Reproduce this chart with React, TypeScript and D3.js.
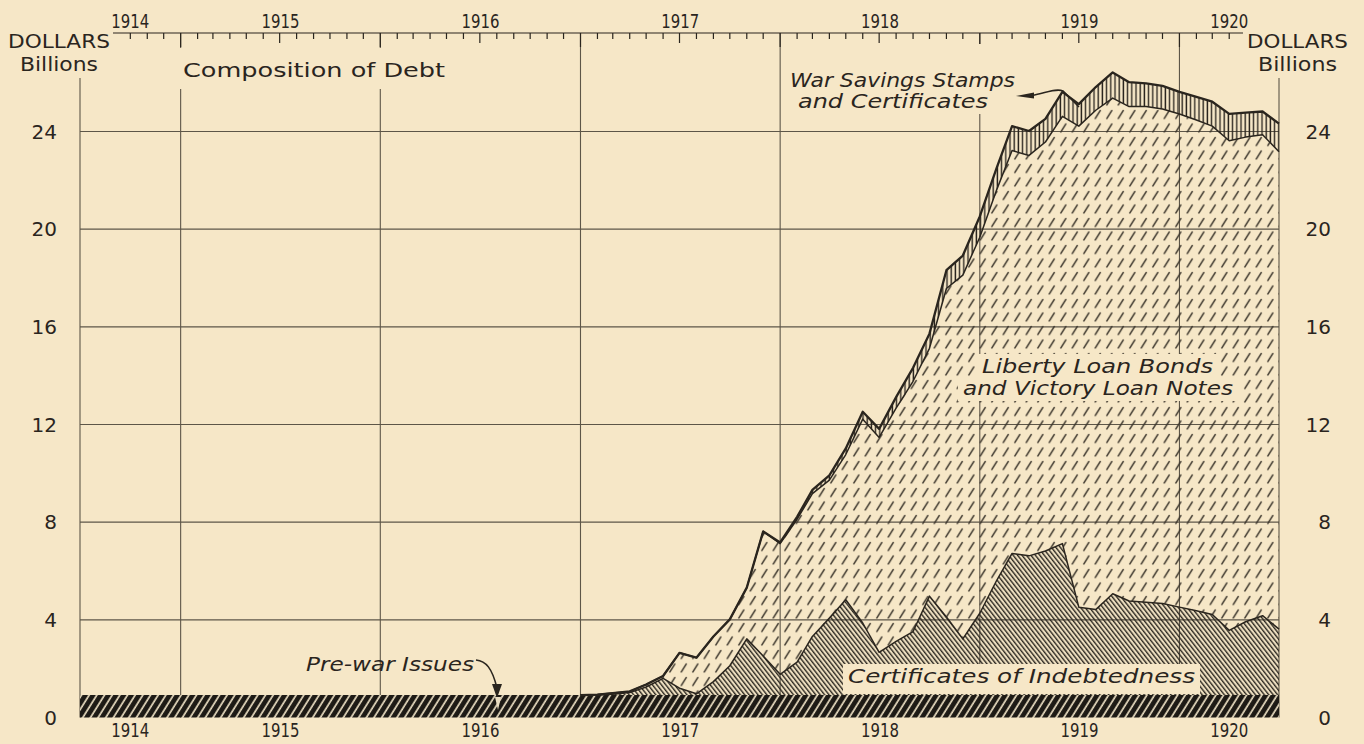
import React from "react";
import * as d3 from "d3";

// ---------- data (billions of dollars, monthly, Jan 1917 – Jul 1920) ----------
const chartStart = new Date(1914, 6, 1);
const chartEnd = new Date(1920, 6, 1);
const warStart = new Date(1917, 0, 1);

const yearLabels = ["1914", "1915", "1916", "1917", "1918", "1919", "1920"];
const yTicks = [0, 4, 8, 12, 16, 20, 24];

const preWarIssues = [
  0.92, 0.92, 0.92, 0.92, 0.92, 0.92, 0.92, 0.92, 0.92, 0.92, 0.92, 0.92,
  0.92, 0.92, 0.92, 0.92, 0.92, 0.92, 0.92, 0.92, 0.92, 0.92, 0.92, 0.92,
  0.92, 0.92, 0.92, 0.92, 0.92, 0.92, 0.92, 0.92, 0.92, 0.92, 0.92, 0.92,
  0.92, 0.92, 0.92, 0.92, 0.92, 0.92, 0.92,
];
const certificates = [
  0, 0, 0.03, 0.1, 0.33, 0.68, 0.28, 0.05, 0.55, 1.2, 2.3, 1.6,
  0.85, 1.35, 2.4, 3.15, 3.9, 2.95, 1.75, 2.2, 2.6, 4.05, 3.2, 2.3,
  3.35, 4.7, 5.8, 5.7, 5.9, 6.2, 3.6, 3.5, 4.15, 3.85, 3.8, 3.75,
  3.6, 3.45, 3.3, 2.65, 3.0, 3.25, 2.7,
];
const libertyLoans = [
  0, 0.02, 0.05, 0.05, 0.1, 0.1, 1.45, 1.48, 1.85, 1.9, 2.1, 5.1,
  5.35, 5.85, 5.85, 5.65, 5.95, 8.35, 8.8, 9.55, 10.25, 10.15, 13.45, 14.9,
  15.4, 16.0, 16.5, 16.4, 16.75, 17.5, 19.7, 20.45, 20.3, 20.25, 20.3, 20.25,
  20.2, 20.1, 20.0, 20.05, 19.85, 19.7, 19.55,
];
const warSavings = [
  0, 0, 0, 0, 0, 0, 0, 0, 0, 0, 0, 0,
  0.05, 0.1, 0.15, 0.2, 0.25, 0.3, 0.35, 0.45, 0.55, 0.6, 0.75, 0.8,
  0.85, 0.9, 1.0, 1.0, 0.95, 1.0, 0.9, 0.95, 1.05, 1.0, 0.95, 0.95,
  0.9, 0.95, 1.0, 1.1, 1.0, 0.95, 1.15,
];

// ---------- style ----------
const PAPER = "#f6e7c7";
const INK = "#2a251e";
const GRID = "#5d5648";
const FONT = "'DejaVu Sans', sans-serif";

export default function App() {
  const W = 1364;
  const H = 744;
  const left = 80;
  const right = 1279;

  const x = d3.scaleTime().domain([chartStart, chartEnd]).range([left, right]);
  const y = d3.scaleLinear().domain([0, 24]).range([717.5, 131.5]);

  const months = d3.timeMonth.range(warStart, d3.timeMonth.offset(chartEnd, 1));
  const rows = months.map((date, i) => ({
    date,
    prewar: preWarIssues[i],
    cert: certificates[i],
    liberty: libertyLoans[i],
    stamps: warSavings[i],
  }));
  const keys = ["prewar", "cert", "liberty", "stamps"];
  const series = d3.stack<any>().keys(keys)(rows);

  const pts = (s: any) => s.map((d: any) => ({ date: d.data.date, y0: d[0], y1: d[1] }));
  const prewarPts = [{ date: chartStart, y0: 0, y1: preWarIssues[0] }, ...pts(series[0])];

  const area = d3
    .area<any>()
    .x((d) => x(d.date))
    .y0((d) => y(d.y0))
    .y1((d) => y(d.y1));
  const line = d3
    .line<any>()
    .x((d) => x(d.date))
    .y((d) => y(d.y1));

  const years = d3.timeYear.range(new Date(1915, 0, 1), chartEnd);
  const allMonths = d3.timeMonth.range(chartStart, chartEnd);

  const yearMid = yearLabels.map((lab) => {
    const yr = +lab;
    const a = Math.max(+new Date(yr, 0, 1), +chartStart);
    const b = Math.min(+new Date(yr + 1, 0, 1), +chartEnd);
    return { lab, cx: (x(new Date(a)) + x(new Date(b))) / 2 };
  });

  return (
    <svg
      width={W}
      height={H}
      style={{ position: "absolute", left: 0, top: 0, background: PAPER }}
    >
      <defs>
        <pattern id="prewar" patternUnits="userSpaceOnUse" width="6.5" height="8" patternTransform="rotate(32)">
          <rect width="6.5" height="8" fill="#1d1a15" />
          <line x1="2" y1="0" x2="2" y2="8" stroke="#e8dcc0" strokeWidth="1.7" />
        </pattern>
        <pattern id="cert" patternUnits="userSpaceOnUse" width="3.5" height="8" patternTransform="rotate(-38)">
          <line x1="1.5" y1="0" x2="1.5" y2="8" stroke="#2a261f" strokeWidth="1.45" />
        </pattern>
        <pattern id="liberty" patternUnits="userSpaceOnUse" width="11.5" height="13.5">
          <line x1="2.8" y1="10.5" x2="7.8" y2="2.5" stroke="#3a342a" strokeWidth="1.5" strokeLinecap="round" />
        </pattern>
        <pattern id="stamps" patternUnits="userSpaceOnUse" width="4.2" height="10">
          <line x1="2" y1="0" x2="2" y2="10" stroke="#2a251e" strokeWidth="1.4" />
        </pattern>
      </defs>

      <rect x={0} y={0} width={W} height={H} fill={PAPER} />

      {/* grid */}
      <g stroke={GRID} strokeWidth={1.1}>
        {yTicks.filter((t) => t > 0).map((t) => (
          <line key={"h" + t} x1={left} x2={right} y1={y(t)} y2={y(t)} />
        ))}
        {years.map((d) => (
          <line key={"v" + +d} x1={x(d)} x2={x(d)} y1={33} y2={y(0)} />
        ))}
        <line x1={left} x2={left} y1={78} y2={y(0)} />
        <line x1={right} x2={right} y1={78} y2={y(0)} />
      </g>

      {/* top month axis */}
      <g stroke={INK} strokeWidth={1.2}>
        <line x1={113} x2={1243} y1={33} y2={33} />
        {allMonths
          .filter((d) => x(d) >= 125 && x(d) <= 1240)
          .map((d) => {
            const m = d.getMonth();
            const len = m === 0 ? 14 : m === 6 ? 10 : 6;
            return <line key={"t" + +d} x1={x(d)} x2={x(d)} y1={33} y2={33 + len} />;
          })}
      </g>

      {/* areas */}
      <path d={area(prewarPts) || ""} fill="url(#prewar)" />
      <path d={area(pts(series[1])) || ""} fill="url(#cert)" />
      <path d={area(pts(series[2])) || ""} fill="url(#liberty)" />
      <path d={area(pts(series[3])) || ""} fill="url(#stamps)" />

      {/* outlines */}
      <g fill="none" stroke={INK} strokeLinejoin="round">
        <path d={line(pts(series[1])) || ""} strokeWidth={1.5} />
        <path d={line(pts(series[2])) || ""} strokeWidth={1.5} />
        <path d={line(pts(series[3])) || ""} strokeWidth={2.3} />
      </g>

      {/* label boxes */}
      <g fill={PAPER}>
        <rect x={174} y={48} width={280} height={41} />
        <rect x={784} y={44} width={236} height={70} />
        <rect x={975} y={354} width={245} height={24} />
        <rect x={958} y={378} width={282} height={23} />
        <rect x={843} y={664} width={357} height={30} />
      </g>

      {/* texts */}
      <g fontFamily={FONT} fill={INK}>
        <text x={8} y={48} fontSize={20} textLength={102} lengthAdjust="spacingAndGlyphs">DOLLARS</text>
        <text x={20} y={71} fontSize={19} textLength={78} lengthAdjust="spacingAndGlyphs">Billions</text>
        <text x={1247} y={48} fontSize={20} textLength={101} lengthAdjust="spacingAndGlyphs">DOLLARS</text>
        <text x={1258} y={71} fontSize={19} textLength={79} lengthAdjust="spacingAndGlyphs">Billions</text>

        <text x={183} y={77} fontSize={20} textLength={262} lengthAdjust="spacingAndGlyphs">Composition of Debt</text>

        {yearMid.map((d) => (
          <text key={"ty" + d.lab} x={d.cx} y={28} fontSize={20} textAnchor="middle" textLength={38} lengthAdjust="spacingAndGlyphs">
            {d.lab}
          </text>
        ))}
        {yearMid.map((d) => (
          <text key={"by" + d.lab} x={d.cx} y={737} fontSize={19} textAnchor="middle" textLength={38} lengthAdjust="spacingAndGlyphs">
            {d.lab}
          </text>
        ))}

        {yTicks.map((t) => (
          <text key={"yl" + t} x={57} y={y(t) + 7} fontSize={20} textAnchor="end">
            {t}
          </text>
        ))}
        {yTicks.map((t) => (
          <text key={"yr" + t} x={1331} y={y(t) + 7} fontSize={20} textAnchor="end">
            {t}
          </text>
        ))}

        <g fontStyle="italic" fontSize={19}>
          <text x={790} y={87} textLength={225} lengthAdjust="spacingAndGlyphs">War Savings Stamps</text>
          <text x={798} y={108} textLength={190} lengthAdjust="spacingAndGlyphs">and Certificates</text>
          <text x={982} y={373} textLength={231} lengthAdjust="spacingAndGlyphs">Liberty Loan Bonds</text>
          <text x={963} y={395} textLength={270} lengthAdjust="spacingAndGlyphs">and Victory Loan Notes</text>
          <text x={848} y={683} textLength={347} lengthAdjust="spacingAndGlyphs">Certificates of Indebtedness</text>
          <text x={306} y={671} textLength={168} lengthAdjust="spacingAndGlyphs">Pre-war Issues</text>
        </g>
      </g>

      {/* leaders */}
      <g>
        <path d="M1016,96 L1034,92.5 L1034,98.5 Z" fill={INK} />
        <path d="M1032,95.5 C1046,93 1056,88 1063,91 L1079,107" fill="none" stroke={INK} strokeWidth={1.5} />
        <path d="M476,660 C486,661 492,668 497,688" fill="none" stroke={INK} strokeWidth={1.6} />
        <path d="M492,684 L502,684 L497,698 Z" fill={INK} />
        <path d="M495,697 L501,697 L498,710 Z" fill="#e8dcc0" />
      </g>
    </svg>
  );
}
